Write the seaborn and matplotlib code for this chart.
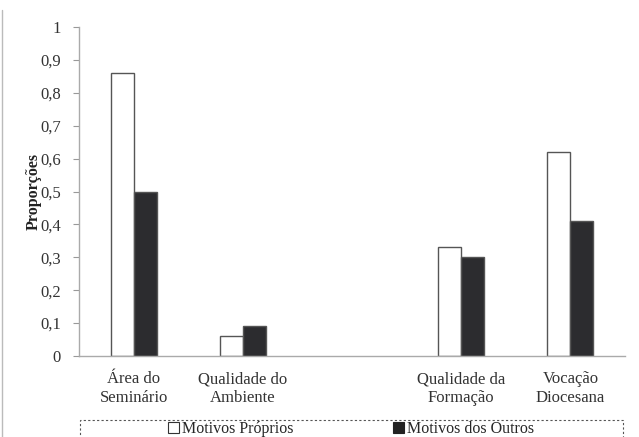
import matplotlib
matplotlib.use("Agg")
import matplotlib.pyplot as plt
from matplotlib.lines import Line2D
from matplotlib.patches import Rectangle, Patch
import seaborn as sns
import pandas as pd

categories = ["Área do\nSeminário", "Qualidade do\nAmbiente", " ", "Qualidade da\nFormação", "Vocação\nDiocesana"]
proprios = [0.86, 0.06, None, 0.33, 0.62]
outros = [0.50, 0.09, None, 0.30, 0.41]
series = ["Motivos Próprios", "Motivos dos Outros"]
yticks = [0, 0.1, 0.2, 0.3, 0.4, 0.5, 0.6, 0.7, 0.8, 0.9, 1]
ytick_labels = ["0", "0,1", "0,2", "0,3", "0,4", "0,5", "0,6", "0,7", "0,8", "0,9", "1"]

rows = []
for c, p, o in zip(categories, proprios, outros):
    if p is not None:
        rows.append({"cat": c, "serie": series[0], "val": p})
        rows.append({"cat": c, "serie": series[1], "val": o})
df = pd.DataFrame(rows)

sns.set_theme(style="white")
plt.rcParams["font.family"] = ["Liberation Serif", "DejaVu Serif"]

fig = plt.figure(figsize=(6.39, 4.37), dpi=100)
ax = fig.add_axes([79/639, 1-356/437, (625-79)/639, (356-27)/437])

palette = {series[0]: "white", series[1]: "#2b2b2f"}
sns.barplot(data=df, x="cat", y="val", hue="serie", order=categories,
            hue_order=series, palette=palette, width=0.42, ax=ax,
            edgecolor="#555555", linewidth=1.0, legend=False, errorbar=None)

ax.set_ylim(0, 1)
ax.set_xlim(-0.5, 4.5)
ax.set_yticks(yticks)
ax.set_yticklabels(ytick_labels, fontsize=12, color="#333333")
ax.tick_params(axis="x", length=0, labelsize=12, colors="#333333", pad=11)
ax.tick_params(axis="y", left=True, length=4, width=0.8, color="#999999", pad=9)
ax.set_xlabel("")
ax.set_ylabel("Proporções", fontsize=11.5, fontweight="bold", color="#222222", labelpad=-1)
for s in ["top", "right"]:
    ax.spines[s].set_visible(False)
for s in ["left", "bottom"]:
    ax.spines[s].set_color("#aaaaaa")
    ax.spines[s].set_linewidth(1.0)

# left page border
fig.add_artist(Line2D([2/639, 2/639], [0, 1-10/437], transform=fig.transFigure,
                      color="#bbbbbb", linewidth=1.0))

# dashed legend box
fig.add_artist(Rectangle((80/639, -0.05), (623-80)/639, 0.05 + 1-420/437,
                         transform=fig.transFigure, fill=False, edgecolor="#555555",
                         linestyle=(0, (2, 2)), linewidth=0.8))

handles = [Patch(facecolor="white", edgecolor="#333333", linewidth=0.8),
           Patch(facecolor="#222222", edgecolor="#222222", linewidth=0.8)]
fig.legend(handles, series, loc="center", bbox_to_anchor=(351/639, 1-429/437),
           ncol=2, frameon=False, fontsize=11.5, handlelength=0.7, handleheight=0.7,
           handletextpad=0.2, columnspacing=6.2, bbox_transform=fig.transFigure,
           borderpad=0.0)

fig.savefig("out.png", dpi=100)
